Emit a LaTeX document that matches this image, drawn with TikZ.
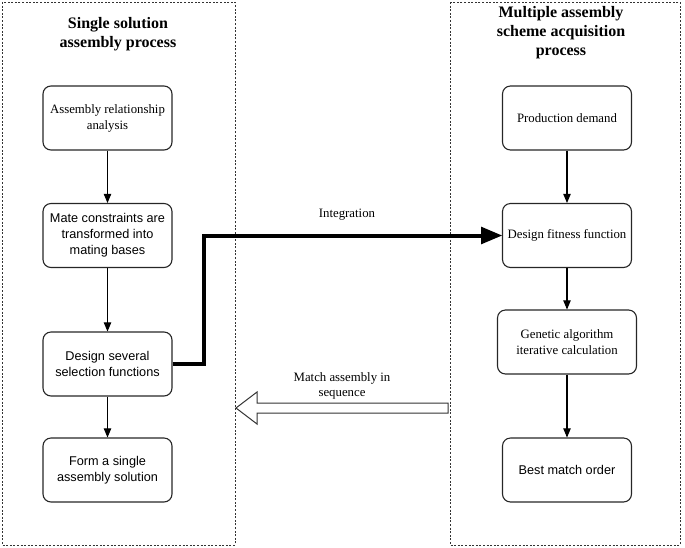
\documentclass[tikz,border=0pt]{standalone}
\usepackage{fontspec}
\setmainfont{Liberation Serif}
\setsansfont{Liberation Sans}
\usetikzlibrary{arrows}

\begin{document}
\begin{tikzpicture}[x=1pt,y=-1pt,>=triangle 45]
    \tikzstyle{every node} = [inner sep=0pt];
    \tikzstyle{proc} = [rectangle,rounded corners=8pt,draw=black!85,line width=1.1pt,
                        minimum width=129pt,minimum height=64pt,align=center,
                        font=\fontsize{12.8}{16}\selectfont];
    \tikzstyle{procsf} = [proc,font=\sffamily\fontsize{12.7}{16}\selectfont];
    \tikzstyle{title} = [align=center,font=\bfseries\fontsize{16}{19}\selectfont];
    \tikzstyle{frame} = [draw=black!80,line width=0.8pt,dash pattern=on 2pt off 1.6pt];
    \tikzstyle{flow} = [->,line width=1.1pt];
    \useasboundingbox (0,0) rectangle (685,547);

    % the two dashed frames
    \draw[frame] (2,2) rectangle (235,545);
    \draw[frame] (450,2) rectangle (680,545);

    \node[title] (lefttitle) at (118,34) {Single solution\\assembly process};
    \node[title] (righttitle) at (561,33) {Multiple assembly\\scheme acquisition\\process};

    % left column
    \node[proc] (asm) at (107.5,118) {Assembly relationship\\analysis};
    \node[procsf] (mate) at (107.5,235.5) {Mate constraints are\\transformed into\\mating bases};
    \node[procsf] (sel) at (107.5,364) {Design several\\selection functions};
    \node[procsf] (form) at (107.5,470) {Form a single\\assembly solution};

    % right column
    \node[proc] (prod) at (567,118) {Production demand};
    \node[proc] (fit) at (567,235.5) {Design fitness function};
    \node[proc,minimum width=139pt] (gen) at (567,342) {Genetic algorithm\\iterative calculation};
    \node[procsf] (best) at (567,470) {Best match order};

    \draw[flow] (asm) -- (mate);
    \draw[flow] (mate) -- (sel);
    \draw[flow] (sel) -- (form);
    \draw[flow] (prod) -- (fit);
    \draw[flow] (fit) -- (gen);
    \draw[flow] (gen) -- (best);

    % integration link
    \draw[->,line width=4pt] (sel.east) -- ++(31,0) |- (fit.west);
    \node[font=\fontsize{12.8}{16}\selectfont] (integ) at (347,215) {Integration};

    % hollow return arrow
    \coordinate (mtip) at (236,408);
    \draw[line width=1pt,draw=black!80,fill=white] (mtip) -- ++(21,-16) -- ++(0,11) -- ++(191,0)
        -- ++(0,10) -- ++(-191,0) -- ++(0,11) -- cycle;
    \node[align=center,font=\fontsize{12.8}{15}\selectfont] (match) at (342,385.5) {Match assembly in\\sequence};
\end{tikzpicture}
\end{document}
